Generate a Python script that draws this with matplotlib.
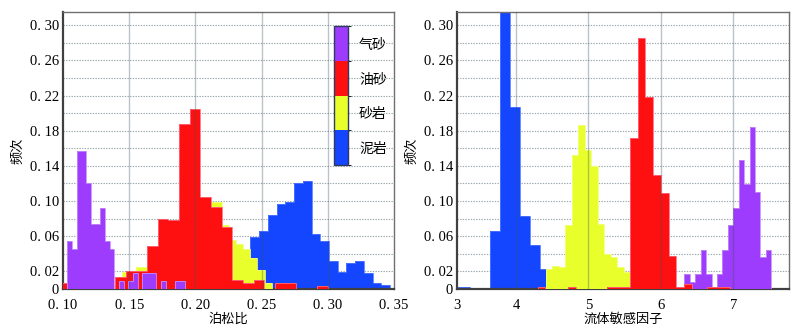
import numpy as np
import matplotlib
matplotlib.use("Agg")
import matplotlib.pyplot as plt
from matplotlib.colors import ListedColormap
from matplotlib.ticker import FixedLocator, FixedFormatter, MultipleLocator
import matplotlib as mpl

# ---- histogram data: bin start, bin width, relative frequency per bin ----
# Poisson ratio
pr_gas_start, pr_gas_width = 0.1033, 0.00354
pr_gas = [0.055, 0.0455, 0.157, 0.157, 0.120, 0.0735, 0.0735, 0.092, 0.055, 0.0455,
          0, 0.009, 0, 0.009, 0.018, 0, 0.018, 0.018, 0.018, 0, 0.009, 0, 0, 0.009, 0.009]
pr_oil_start, pr_oil_width = 0.0990, 0.00805
pr_oil = [0.0065, 0, 0, 0, 0, 0.0133, 0.0205, 0.0205, 0.049, 0.080, 0.078, 0.1875, 0.205,
          0.105, 0.093, 0.071, 0.0102, 0.0065, 0.0102, 0, 0.0065, 0.0065, 0, 0, 0.003]
pr_sand_start, pr_sand_width = 0.13885, 0.0054
pr_sand = [0.005, 0.0197, 0.015, 0.0254, 0.0254, 0.03, 0.04, 0.05, 0.06, 0.075, 0.085,
           0.095, 0.10, 0.099, 0.099, 0.0727, 0.0557, 0.0508, 0.046, 0.035, 0.022, 0.0068]
pr_mud_start, pr_mud_width = 0.2415, 0.0066
pr_mud = [0.0595, 0.0659, 0.084, 0.097, 0.099, 0.120, 0.1223, 0.0629, 0.0549, 0.0314,
          0.0197, 0.0292, 0.0322, 0.0186, 0.0072, 0.0042]

# fluid sensitivity factor
fs_gas_start, fs_gas_width = 6.3246, 0.0751
fs_gas = [0.017, 0.0083, 0.017, 0.0443, 0.017, 0, 0.017, 0.0443, 0.0727, 0.0917,
          0.147, 0.119, 0.184, 0.110, 0.036, 0.0443]
fs_oil_start, fs_oil_width = 4.298, 0.1064
fs_oil = [0.002, 0, 0, 0, 0.002, 0, 0, 0, 0, 0.002, 0.002, 0.002, 0.172, 0.286, 0.2185,
          0.130, 0.1087, 0.0375, 0.0027, 0.0057, 0, 0, 0.002, 0.002, 0.002]
fs_sand_start, fs_sand_width = 4.41, 0.0898
fs_sand = [0.0227, 0.0265, 0.0246, 0.0727, 0.152, 0.186, 0.158, 0.140, 0.0739, 0.0398,
           0.036, 0.0253, 0.019]
fs_mud_start, fs_mud_width = 3.089, 0.138
fs_mud = [0.002, 0.002, 0, 0, 0.066, 0.36, 0.207, 0.0826, 0.0496, 0.0227]

lith_names = ["气砂", "油砂", "砂岩", "泥岩"]
yticks = [0, 0.02, 0.06, 0.10, 0.14, 0.18, 0.22, 0.26, 0.30]
pr_xticks = [0.10, 0.15, 0.20, 0.25, 0.30, 0.35]
fs_xticks = [4, 5, 6, 7]

c_gas, c_oil, c_sand, c_mud = "#9d3cfc", "#ff1010", "#e8ff2c", "#1445ff"
e_gas, e_oil, e_sand, e_mud = "#c58cff", "#ff6a80", "#f0ff80", "#5078ff"

cjk = ["Noto Sans CJK SC", "DejaVu Sans"]
num_font = "Liberation Serif"


def draw_hist(ax, start, width, heights, color, edge, z):
    heights = np.asarray(heights)
    edges = start + width * np.arange(len(heights) + 1)
    ax.stairs(heights, edges, fill=True, color=color, linewidth=0, zorder=z)
    ax.stairs(heights, edges, fill=False, color=edge, linewidth=0.6, zorder=z)


def style_axes(ax, xlim, xticks, xlabels, xlabel):
    ax.set_xlim(*xlim)
    ax.set_ylim(0, 0.315)
    ax.yaxis.set_major_locator(FixedLocator(yticks))
    ax.yaxis.set_major_formatter(FixedFormatter(
        ["0" if v == 0 else f"{v:.2f}".replace(".", ". ") for v in yticks]))
    ax.yaxis.set_minor_locator(MultipleLocator(0.02))
    ax.grid(axis="y", which="both", color="#9aa8ae", linestyle=(0, (1.2, 1.2)),
            linewidth=0.8, zorder=0)
    ax.set_axisbelow(True)
    ax.xaxis.set_major_locator(FixedLocator(xticks))
    ax.xaxis.set_major_formatter(FixedFormatter(xlabels))
    # vertical grid sits on top of the bars
    for xv in xticks:
        if xlim[0] < xv < xlim[1]:
            ax.axvline(xv, color="#3c5560", alpha=0.35, linewidth=1.0, zorder=10)
    ax.tick_params(which="both", length=0)
    ax.tick_params(axis="x", pad=7)
    ax.tick_params(axis="y", pad=3)
    for lab in ax.get_xticklabels() + ax.get_yticklabels():
        lab.set_family(num_font)
        lab.set_fontsize(10.5)
    ax.set_ylabel("频次", family=cjk, fontsize=9.5, labelpad=4)
    ax.set_xlabel(xlabel, family=cjk, fontsize=9.5, labelpad=1)
    for side in ["top", "right"]:
        ax.spines[side].set_color("#707070")
        ax.spines[side].set_linewidth(1.0)
    for side in ["left", "bottom"]:
        ax.spines[side].set_color("#404040")
        ax.spines[side].set_linewidth(1.6)


fig = plt.figure(figsize=(8, 3.36), dpi=100)
ax1 = fig.add_axes([63 / 800, 47 / 336, 331 / 800, 277 / 336])
ax2 = fig.add_axes([457 / 800, 47 / 336, 332 / 800, 277 / 336])

# Poisson ratio panel
draw_hist(ax1, pr_mud_start, pr_mud_width, pr_mud, c_mud, e_mud, 2)
draw_hist(ax1, pr_sand_start, pr_sand_width, pr_sand, c_sand, e_sand, 3)
draw_hist(ax1, pr_oil_start, pr_oil_width, pr_oil, c_oil, e_oil, 4)
draw_hist(ax1, pr_gas_start, pr_gas_width, pr_gas, c_gas, e_gas, 5)
style_axes(ax1, (0.10, 0.35), pr_xticks,
           [f"{v:.2f}".replace(".", ". ") for v in pr_xticks], "泊松比")

# fluid sensitivity factor panel
draw_hist(ax2, fs_mud_start, fs_mud_width, fs_mud, c_mud, e_mud, 2)
draw_hist(ax2, fs_sand_start, fs_sand_width, fs_sand, c_sand, e_sand, 3)
draw_hist(ax2, fs_gas_start, fs_gas_width, fs_gas, c_gas, e_gas, 4)
draw_hist(ax2, fs_oil_start, fs_oil_width, fs_oil, c_oil, e_oil, 5)
fs_lim = (3.185, 7.77)
style_axes(ax2, fs_lim, [fs_lim[0]] + fs_xticks,
           ["3"] + [str(v) for v in fs_xticks], "流体敏感因子")

# lithology colour key
cax = fig.add_axes([334 / 800, 171 / 336, 14 / 800, 139 / 336])
cmap = ListedColormap([c_mud, c_sand, c_oil, c_gas])
norm = mpl.colors.BoundaryNorm([0, 1, 2, 3, 4], cmap.N)
cb = mpl.colorbar.ColorbarBase(cax, cmap=cmap, norm=norm, ticks=[0.5, 1.5, 2.5, 3.5])
cb.set_ticklabels(lith_names[::-1])
cb.outline.set_edgecolor("#303a60")
cb.outline.set_linewidth(1.0)
cax.tick_params(length=0, pad=8)
for lab in cax.get_yticklabels():
    lab.set_family(cjk)
    lab.set_fontsize(10)

fig.savefig("out.png", dpi=100)
